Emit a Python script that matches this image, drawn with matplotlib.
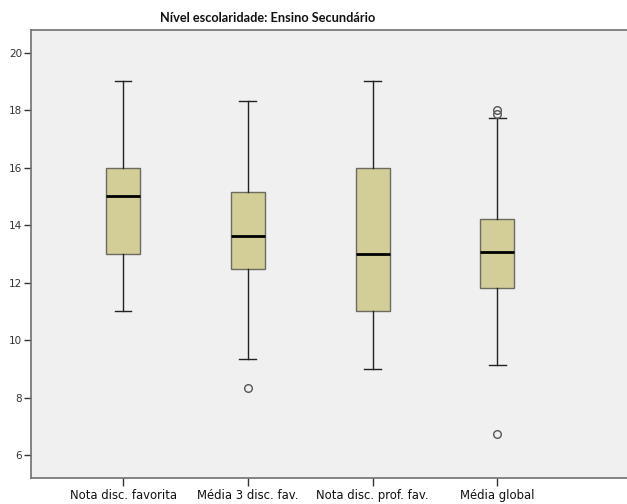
import matplotlib
matplotlib.use("Agg")
import matplotlib.pyplot as plt

categories = ["Nota disc. favorita", "Média 3 disc. fav.", "Nota disc. prof. fav.", "Média global"]
whislo = [11.0, 9.33, 9.0, 9.12]
q1 = [13.0, 12.48, 11.0, 11.82]
med = [15.0, 13.62, 13.0, 13.06]
q3 = [16.0, 15.16, 16.0, 14.22]
whishi = [19.0, 18.32, 19.0, 17.72]
fliers = [[], [8.32], [], [18.02, 17.85, 6.72]]
yticks = [6, 8, 10, 12, 14, 16, 18, 20]
title = "Nível escolaridade: Ensino Secundário"

stats = []
for i, c in enumerate(categories):
    stats.append(dict(label=c, whislo=whislo[i], q1=q1[i], med=med[i],
                      q3=q3[i], whishi=whishi[i], fliers=fliers[i]))

fig = plt.figure(figsize=(6.27, 5.04), dpi=100)
ax = fig.add_axes([31/627, 26/504, 1 - 31/627, 448/504])
ax.set_facecolor("#f0f0f0")

ax.bxp(stats, positions=[1, 2, 3, 4], widths=0.273, patch_artist=True,
       showfliers=True,
       boxprops=dict(facecolor="#d3ce97", edgecolor="#6b6b60", linewidth=1.0),
       medianprops=dict(color="black", linewidth=2.0),
       whiskerprops=dict(color="#222222", linewidth=1.0),
       capprops=dict(color="#222222", linewidth=1.0),
       capwidths=0.134,
       flierprops=dict(marker="o", markerfacecolor="none", markeredgecolor="#555555",
                       markersize=5.5, markeredgewidth=1.0))

ax.set_xlim(0.262, 5.04)
ax.set_ylim(5.2, 20.79)
ax.set_yticks(yticks)
ax.set_yticklabels([str(t) for t in yticks])
ax.set_xticks([1, 2, 3, 4])
ax.set_xticklabels(categories)

for s in ["left", "bottom", "top"]:
    ax.spines[s].set_color("#707070")
    ax.spines[s].set_linewidth(1.2)
ax.spines["right"].set_visible(False)

ax.tick_params(axis="y", direction="out", length=5, width=1, color="#333333",
               labelsize=7.5, labelcolor="#333333", pad=1.5)
ax.tick_params(axis="x", direction="out", length=6, width=1, color="#333333",
               labelsize=8.4, labelcolor="#111111", pad=2)

fig.text(267.5/627, 1 - 18.5/504, title, ha="center", va="center",
         fontsize=9.2, fontweight="bold", color="#111111",
         family=["Lato", "DejaVu Sans"])

fig.savefig("out.png", dpi=100, facecolor="white")
